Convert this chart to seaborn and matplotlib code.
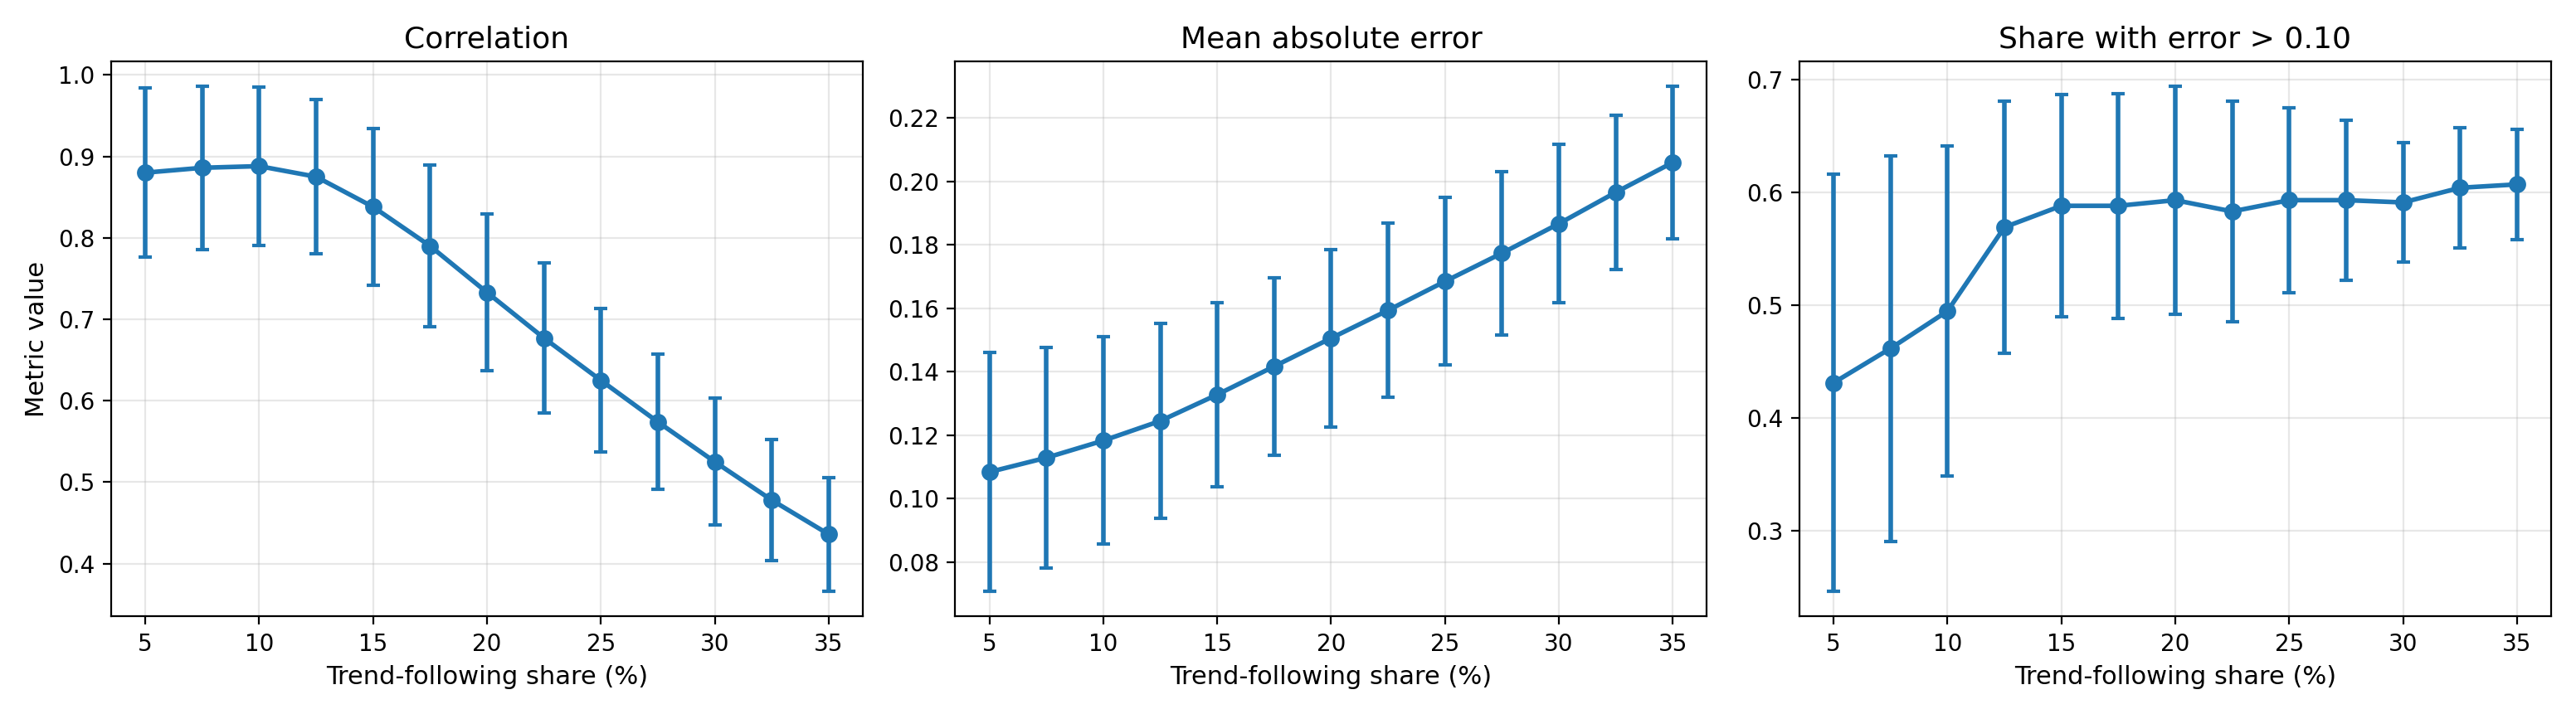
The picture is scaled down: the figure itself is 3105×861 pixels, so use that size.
import numpy as np
import pandas as pd
import matplotlib
matplotlib.use("Agg")
import matplotlib.pyplot as plt
import seaborn as sns

share = [5, 7.5, 10, 12.5, 15, 17.5, 20, 22.5, 25, 27.5, 30, 32.5, 35]

corr_mean = [0.880, 0.886, 0.888, 0.875, 0.838, 0.790, 0.733, 0.677, 0.625, 0.574, 0.525, 0.478, 0.436]
corr_err = [0.104, 0.100, 0.097, 0.095, 0.096, 0.099, 0.096, 0.092, 0.088, 0.083, 0.078, 0.074, 0.070]

mae_mean = [0.1084, 0.1129, 0.1183, 0.1245, 0.1328, 0.1417, 0.1506, 0.1594, 0.1685, 0.1774, 0.1867, 0.1966, 0.2060]
mae_err = [0.0376, 0.0348, 0.0327, 0.0307, 0.0290, 0.0280, 0.0280, 0.0274, 0.0264, 0.0257, 0.0250, 0.0244, 0.0240]

share_mean = [0.431, 0.4615, 0.4946, 0.5690, 0.588, 0.588, 0.593, 0.583, 0.593, 0.593, 0.591, 0.604, 0.607]
share_err = [0.185, 0.171, 0.1466, 0.112, 0.0988, 0.0997, 0.101, 0.098, 0.082, 0.0708, 0.0532, 0.0534, 0.0487]

titles = ["Correlation", "Mean absolute error", "Share with error > 0.10"]
xlabel = "Trend-following share (%)"
ylabel = "Metric value"

color = "#1f77b4"

fig, axes = plt.subplots(1, 3, figsize=(15.525, 4.305), dpi=200)
series = [(corr_mean, corr_err), (mae_mean, mae_err), (share_mean, share_err)]
for ax, (m, e), t in zip(axes, series, titles):
    df = pd.DataFrame({"x": share, "y": m, "e": e})
    ax.errorbar(df["x"], df["y"], yerr=df["e"], fmt="none", ecolor=color,
                elinewidth=2, capsize=3, capthick=1.5, zorder=2)
    sns.lineplot(data=df, x="x", y="y", ax=ax, color=color, marker="o",
                 markersize=7.5, linewidth=2, markeredgewidth=0, zorder=3)
    ax.set_title(t, fontsize=13)
    ax.set_xlabel(xlabel, fontsize=11)
    ax.set_ylabel("")
    ax.set_xticks([5, 10, 15, 20, 25, 30, 35])
    ax.tick_params(labelsize=10)
    ax.grid(True, alpha=0.3)
axes[0].set_ylabel(ylabel, fontsize=11)

fig.tight_layout()
fig.savefig("out.png", dpi=200)
